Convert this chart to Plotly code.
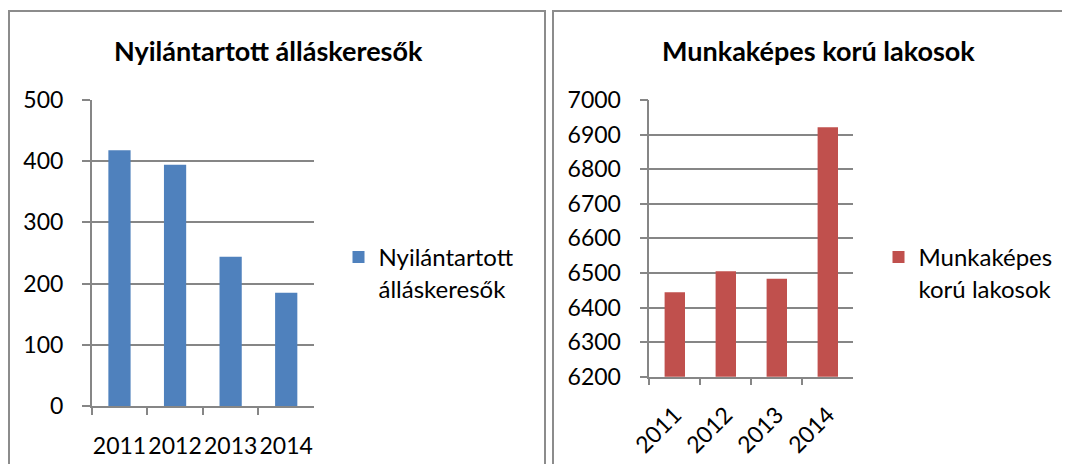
import plotly.graph_objects as go

years = ["2011", "2012", "2013", "2014"]
allaskeresok = [418, 394, 244, 185]
munkakepes = [6444, 6505, 6483, 6921]

title_left = "Nyilántartott álláskeresők"
title_right = "Munkaképes korú lakosok"
legend_left = "Nyilántartott<br>álláskeresők"
legend_right = "Munkaképes<br>korú lakosok"

W, H = 1070, 464
OFF = 8  # page body margin
FONT = "Lato"
GRID = "#868686"

def px(x):
    return (x - OFF) / W

def py(y):
    return 1 - (y - OFF) / H

fig = go.Figure()
fig.add_trace(go.Bar(x=years, y=allaskeresok, name=legend_left,
                     marker=dict(color="#4F81BD", line=dict(width=0)),
                     xaxis="x", yaxis="y", legend="legend"))
fig.add_trace(go.Bar(x=years, y=munkakepes, name=legend_right,
                     marker=dict(color="#C0504D", line=dict(width=0)),
                     xaxis="x2", yaxis="y2", legend="legend2"))

axis_common = dict(
    showline=True, linecolor=GRID, linewidth=1.5, automargin=False,
    tickcolor=GRID, tickwidth=1.5, ticks="outside",
    tickfont=dict(family=FONT, size=23, color="#000"),
)

fig.update_layout(
    width=W, height=H, autosize=False,
    margin=dict(l=0, r=0, t=0, b=0, pad=0, autoexpand=False),
    paper_bgcolor="white", plot_bgcolor="white",
    bargap=0.6,
    font=dict(family=FONT, color="#000"),
    xaxis=dict(domain=[px(91.7), px(314)], anchor="y", type="category",
               tickson="boundaries", ticklen=7, tickangle=0,
               ticklabelstandoff=19, showgrid=False, **axis_common),
    yaxis=dict(domain=[py(406), py(100)], anchor="x", range=[0, 500], dtick=100,
               ticklen=8, showgrid=True, gridcolor=GRID, gridwidth=1.5,
               zeroline=False, ticklabelstandoff=14, **axis_common),
    xaxis2=dict(domain=[px(649.3), px(853.3)], anchor="y2", type="category",
                tickson="boundaries", ticklen=7, tickangle=-45,
                ticklabelstandoff=14, showgrid=False, **axis_common),
    yaxis2=dict(domain=[py(376.7), py(100)], anchor="x2", range=[6200, 7000], dtick=100,
                ticklen=8, showgrid=True, gridcolor=GRID, gridwidth=1.5,
                zeroline=False, ticklabelstandoff=14, **axis_common),
    legend=dict(x=px(338.5), y=py(235), xanchor="left", yanchor="top",
                valign="top", font=dict(family=FONT, size=24, color="#000"),
                bgcolor="rgba(0,0,0,0)"),
    legend2=dict(x=px(878.5), y=py(235), xanchor="left", yanchor="top",
                 valign="top", font=dict(family=FONT, size=24, color="#000"),
                 bgcolor="rgba(0,0,0,0)"),
    showlegend=True,
    annotations=[
        dict(text="<b>%s</b>" % title_left, x=px(268), y=py(51), xref="paper", yref="paper",
             xanchor="center", yanchor="middle", showarrow=False,
             font=dict(family=FONT, size=27, color="#000")),
        dict(text="<b>%s</b>" % title_right, x=px(818), y=py(51), xref="paper", yref="paper",
             xanchor="center", yanchor="middle", showarrow=False,
             font=dict(family=FONT, size=27, color="#000")),
    ],
    shapes=[
        dict(type="path", xref="paper", yref="paper",
             path="M %f %f L %f %f L %f %f L %f %f" % (px(9), py(490), px(9), py(11), px(545), py(11), px(545), py(490)),
             line=dict(color="#8c8c8c", width=2)),
        dict(type="path", xref="paper", yref="paper",
             path="M %f %f L %f %f L %f %f" % (px(553), py(490), px(553), py(11), px(1100), py(11)),
             line=dict(color="#8c8c8c", width=2)),
    ],
)

fig.write_html("out.html")
